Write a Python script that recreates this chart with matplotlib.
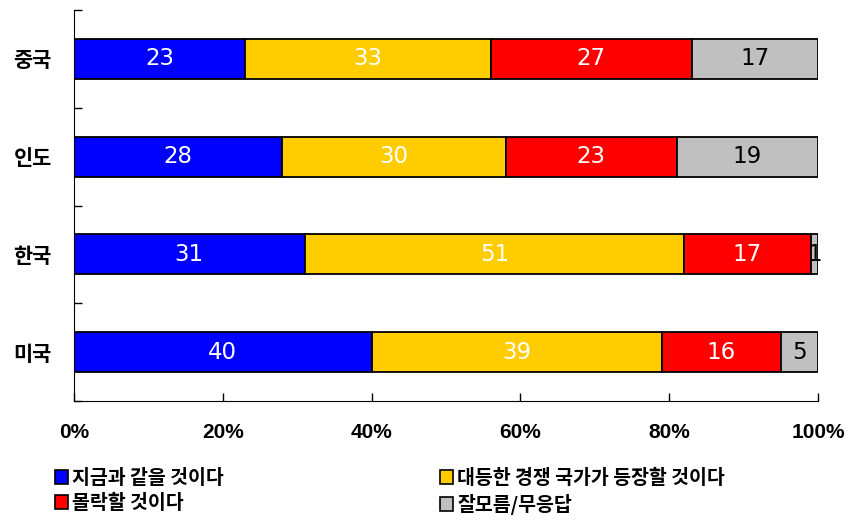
import matplotlib
matplotlib.use('Agg')
import matplotlib.pyplot as plt
from matplotlib.patches import Patch
from matplotlib.ticker import FuncFormatter
import numpy as np

plt.rcParams['font.family'] = ['Noto Sans CJK KR', 'DejaVu Sans']

countries = ['중국', '인도', '한국', '미국']
series = ['지금과 같을 것이다', '대등한 경쟁 국가가 등장할 것이다', '몰락할 것이다', '잘모름/무응답']
same = [23, 28, 31, 40]
rival = [33, 30, 51, 39]
decline = [27, 23, 17, 16]
unknown = [17, 19, 1, 5]
colors = ['#0000FF', '#FFCC00', '#FF0000', '#C0C0C0']
text_colors = ['white', 'white', 'white', 'black']

fig = plt.figure(figsize=(8.48, 5.2), dpi=100)
ax = fig.add_axes([74 / 848, 1 - 401 / 520, 744 / 848, 391 / 520])

y = np.arange(len(countries))
left = np.zeros(len(countries))
for vals, col, tc in zip([same, rival, decline, unknown], colors, text_colors):
    vals = np.array(vals, dtype=float)
    ax.barh(y, vals, left=left, height=0.41, color=col, edgecolor='black', linewidth=1.3)
    for yi, l, v in zip(y, left, vals):
        ax.text(l + v / 2, yi, '%d' % v, ha='center', va='center', color=tc, fontsize=16.5,
                family=['DejaVu Sans'])
    left += vals

ax.set_xlim(0, 100)
ax.set_ylim(3.5, -0.5)
ax.set_xticks([0, 20, 40, 60, 80, 100])
ax.xaxis.set_major_formatter(FuncFormatter(lambda v, pos: '%d%%' % v))
for lab in ax.get_xticklabels():
    lab.set_family(['Liberation Sans Narrow', 'Liberation Sans', 'DejaVu Sans'])
    lab.set_fontweight('bold')
ax.set_yticks([-0.5, 0.5, 1.5, 2.5, 3.5])
ax.set_yticklabels([])
ax.set_yticks(y, minor=True)
ax.set_yticklabels(countries, minor=True, fontsize=15, fontweight='bold')
ax.tick_params(axis='y', which='minor', length=0, pad=16)
ax.tick_params(axis='both', which='major', direction='in', length=6, width=1)
ax.tick_params(axis='x', labelsize=15, pad=16)
for s in ['top', 'right']:
    ax.spines[s].set_visible(False)

handles = [Patch(facecolor=c, edgecolor='black', linewidth=1.2) for c in colors]
for idx, x0 in [((0, 2), 45), ((1, 3), 430)]:
    fig.legend([handles[i] for i in idx], [series[i] for i in idx], loc='upper left',
               bbox_to_anchor=(x0 / 848, 1 - 459 / 520), frameon=False,
               prop={'weight': 'bold', 'size': 14},
               handlelength=0.7, handleheight=0.7, handletextpad=0.2, labelspacing=0.32,
               borderpad=0)

plt.savefig('out.png', dpi=100)
